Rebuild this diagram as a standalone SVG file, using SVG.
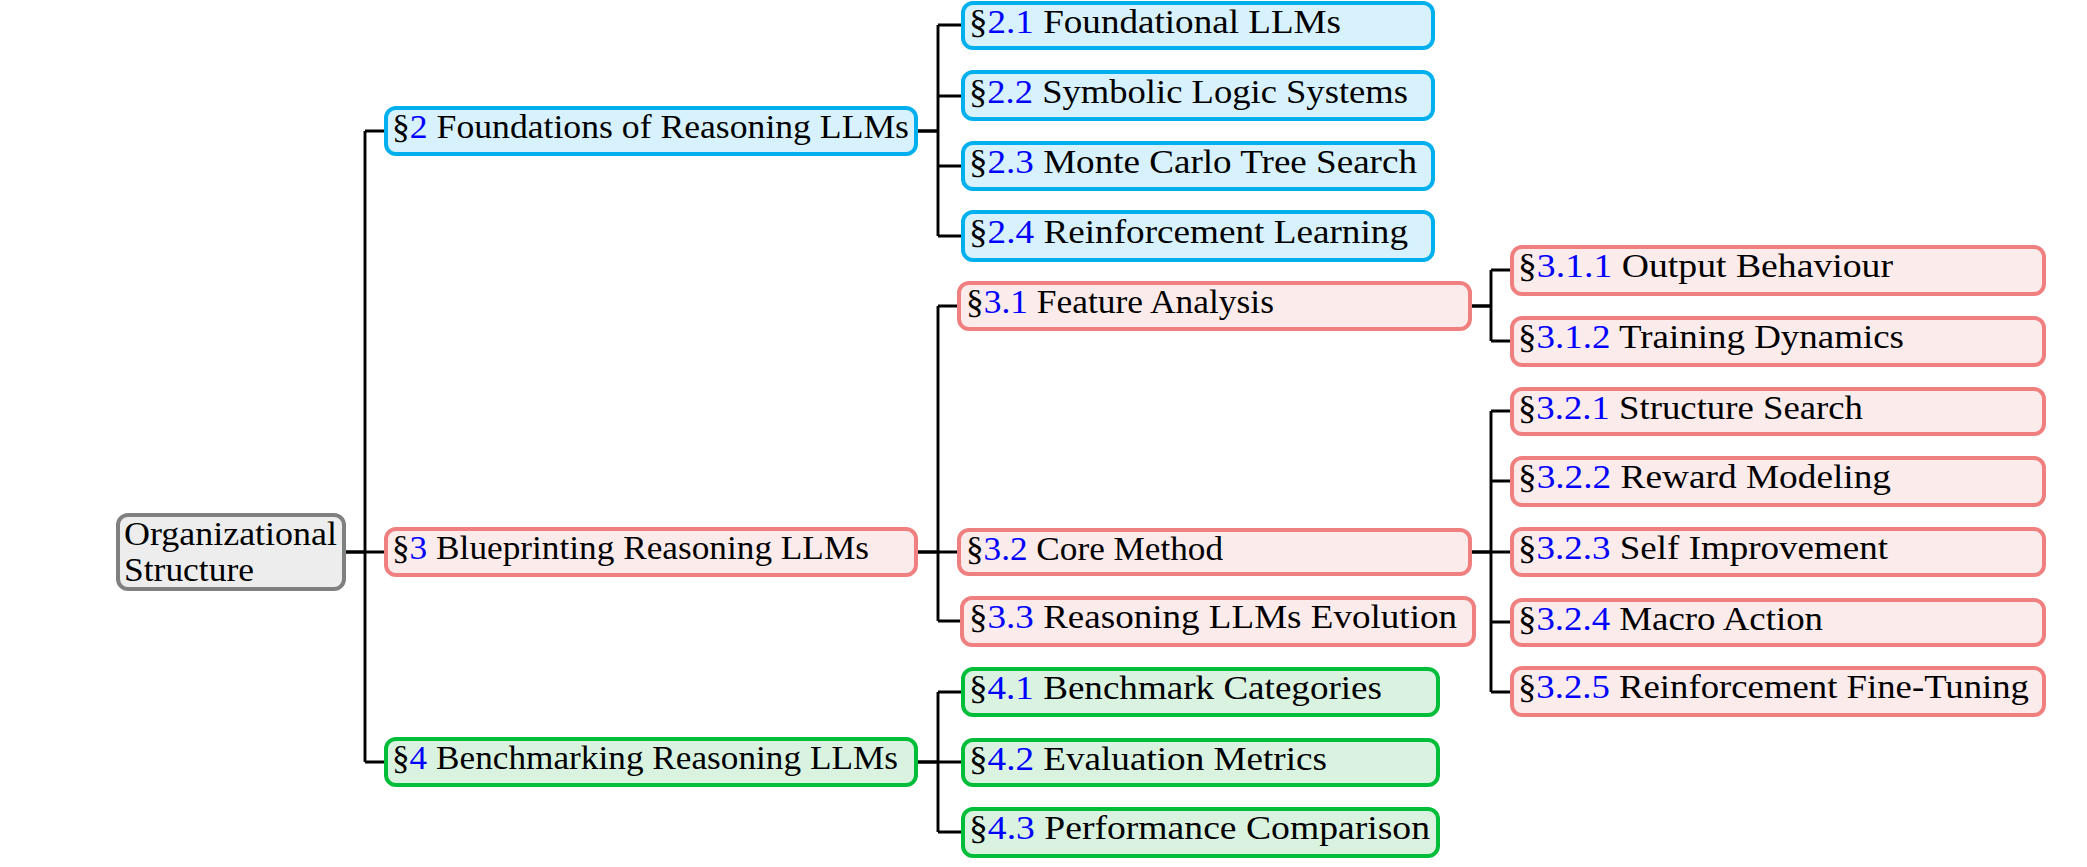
<svg xmlns="http://www.w3.org/2000/svg" width="2087" height="867" viewBox="0 0 2087 867">
<style>
.box{stroke-width:4}
.gray{fill:#EDEDED;stroke:#808080}
.blue{fill:#D7F2FC;stroke:#00B0EE}
.red{fill:#FCEBEB;stroke:#F08080}
.green{fill:#D9F3E0;stroke:#00BD3A}
.t{font-family:"Liberation Serif","Times New Roman",serif;font-size:33px;fill:#000}
.n{fill:#0000FF}
.edge{fill:none;stroke:#000;stroke-width:2.9;stroke-linejoin:miter}
.stem{fill:none;stroke:#000;stroke-width:3.6}
</style>
<rect width="2087" height="867" fill="#FFFFFF"/>
<g id="connectors">
<path class="stem" d="M346,552 H365 M918,131 H938 M918,552 H938 M918,762 H938 M1472,306 H1491 M1472,552 H1491"/>
<path class="edge" d="M365,131 V762 M365,131 H384 M365,552 H384 M365,762 H384"/>
<path class="edge" d="M938,25 V236 M938,25 H961 M938,96 H961 M938,166 H961 M938,236 H961"/>
<path class="edge" d="M938,306 V621 M938,306 H957 M938,552 H957 M938,621 H960"/>
<path class="edge" d="M938,692 V832 M938,692 H961 M938,762 H961 M938,832 H961"/>
<path class="edge" d="M1491,270 V341 M1491,270 H1510 M1491,341 H1510"/>
<path class="edge" d="M1491,411 V692 M1491,411 H1510 M1491,481 H1510 M1491,552 H1510 M1491,622 H1510 M1491,692 H1510"/>
</g>
<g id="root">
<rect class="box gray" x="118" y="515" width="226" height="74" rx="10"/>
<text class="t" x="124" y="545" textLength="213" lengthAdjust="spacingAndGlyphs">Organizational</text>
<text class="t" x="124" y="581" textLength="130" lengthAdjust="spacingAndGlyphs">Structure</text>
</g>
<g id="s2">
<rect class="box blue" x="386" y="108" width="530" height="46" rx="10"/>
<text class="t" x="392" y="138" textLength="517" lengthAdjust="spacingAndGlyphs">§<tspan class="n">2</tspan> Foundations of Reasoning LLMs</text>
</g>
<g id="s3">
<rect class="box red" x="386" y="529" width="530" height="46" rx="10"/>
<text class="t" x="392" y="559" textLength="477" lengthAdjust="spacingAndGlyphs">§<tspan class="n">3</tspan> Blueprinting Reasoning LLMs</text>
</g>
<g id="s4">
<rect class="box green" x="386" y="739" width="530" height="46" rx="10"/>
<text class="t" x="392" y="769" textLength="506" lengthAdjust="spacingAndGlyphs">§<tspan class="n">4</tspan> Benchmarking Reasoning LLMs</text>
</g>
<g id="s2-1">
<rect class="box blue" x="963" y="3" width="470" height="45" rx="10"/>
<text class="t" x="969" y="33" textLength="372" lengthAdjust="spacingAndGlyphs">§<tspan class="n">2.1</tspan> Foundational LLMs</text>
</g>
<g id="s2-2">
<rect class="box blue" x="963" y="72" width="470" height="47" rx="10"/>
<text class="t" x="969" y="103" textLength="439" lengthAdjust="spacingAndGlyphs">§<tspan class="n">2.2</tspan> Symbolic Logic Systems</text>
</g>
<g id="s2-3">
<rect class="box blue" x="963" y="143" width="470" height="46" rx="10"/>
<text class="t" x="969" y="173" textLength="448" lengthAdjust="spacingAndGlyphs">§<tspan class="n">2.3</tspan> Monte Carlo Tree Search</text>
</g>
<g id="s2-4">
<rect class="box blue" x="963" y="212" width="470" height="48" rx="10"/>
<text class="t" x="969" y="243" textLength="439" lengthAdjust="spacingAndGlyphs">§<tspan class="n">2.4</tspan> Reinforcement Learning</text>
</g>
<g id="s3-1">
<rect class="box red" x="959" y="283" width="511" height="46" rx="10"/>
<text class="t" x="966" y="313" textLength="308" lengthAdjust="spacingAndGlyphs">§<tspan class="n">3.1</tspan> Feature Analysis</text>
</g>
<g id="s3-2">
<rect class="box red" x="959" y="530" width="511" height="44" rx="10"/>
<text class="t" x="966" y="560" textLength="257" lengthAdjust="spacingAndGlyphs">§<tspan class="n">3.2</tspan> Core Method</text>
</g>
<g id="s3-3">
<rect class="box red" x="962" y="598" width="512" height="47" rx="10"/>
<text class="t" x="969" y="628" textLength="488" lengthAdjust="spacingAndGlyphs">§<tspan class="n">3.3</tspan> Reasoning LLMs Evolution</text>
</g>
<g id="s4-1">
<rect class="box green" x="963" y="669" width="475" height="46" rx="10"/>
<text class="t" x="969" y="699" textLength="413" lengthAdjust="spacingAndGlyphs">§<tspan class="n">4.1</tspan> Benchmark Categories</text>
</g>
<g id="s4-2">
<rect class="box green" x="963" y="740" width="475" height="45" rx="10"/>
<text class="t" x="969" y="770" textLength="358" lengthAdjust="spacingAndGlyphs">§<tspan class="n">4.2</tspan> Evaluation Metrics</text>
</g>
<g id="s4-3">
<rect class="box green" x="963" y="809" width="475" height="47" rx="10"/>
<text class="t" x="969" y="839" textLength="461" lengthAdjust="spacingAndGlyphs">§<tspan class="n">4.3</tspan> Performance Comparison</text>
</g>
<g id="s3-1-1">
<rect class="box red" x="1512" y="247" width="532" height="47" rx="10"/>
<text class="t" x="1518" y="277" textLength="375" lengthAdjust="spacingAndGlyphs">§<tspan class="n">3.1.1</tspan> Output Behaviour</text>
</g>
<g id="s3-1-2">
<rect class="box red" x="1512" y="318" width="532" height="47" rx="10"/>
<text class="t" x="1518" y="348" textLength="386" lengthAdjust="spacingAndGlyphs">§<tspan class="n">3.1.2</tspan> Training Dynamics</text>
</g>
<g id="s3-2-1">
<rect class="box red" x="1512" y="389" width="532" height="45" rx="10"/>
<text class="t" x="1518" y="419" textLength="345" lengthAdjust="spacingAndGlyphs">§<tspan class="n">3.2.1</tspan> Structure Search</text>
</g>
<g id="s3-2-2">
<rect class="box red" x="1512" y="458" width="532" height="47" rx="10"/>
<text class="t" x="1518" y="488" textLength="373" lengthAdjust="spacingAndGlyphs">§<tspan class="n">3.2.2</tspan> Reward Modeling</text>
</g>
<g id="s3-2-3">
<rect class="box red" x="1512" y="529" width="532" height="46" rx="10"/>
<text class="t" x="1518" y="559" textLength="370" lengthAdjust="spacingAndGlyphs">§<tspan class="n">3.2.3</tspan> Self Improvement</text>
</g>
<g id="s3-2-4">
<rect class="box red" x="1512" y="600" width="532" height="45" rx="10"/>
<text class="t" x="1518" y="630" textLength="305" lengthAdjust="spacingAndGlyphs">§<tspan class="n">3.2.4</tspan> Macro Action</text>
</g>
<g id="s3-2-5">
<rect class="box red" x="1512" y="668" width="532" height="47" rx="10"/>
<text class="t" x="1518" y="698" textLength="511" lengthAdjust="spacingAndGlyphs">§<tspan class="n">3.2.5</tspan> Reinforcement Fine-Tuning</text>
</g>
</svg>
